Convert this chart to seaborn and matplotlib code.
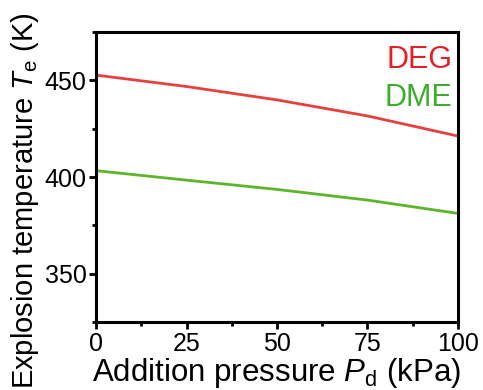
import matplotlib
matplotlib.use("Agg")
import matplotlib.pyplot as plt
import seaborn as sns
import pandas as pd
from matplotlib.ticker import MultipleLocator

pressure = [0, 25, 50, 75, 100]
deg_temp = [452.7, 446.8, 439.9, 431.6, 421.2]
dme_temp = [403.3, 398.4, 393.6, 388.1, 381.2]
series_names = ["DEG", "DME"]
x_ticks = [0, 25, 50, 75, 100]
y_ticks = [350, 400, 450]

sns.set_style("ticks")
plt.rcParams['font.family'] = ['Liberation Sans', 'DejaVu Sans']
plt.rcParams['mathtext.fontset'] = 'custom'
plt.rcParams['mathtext.it'] = 'Liberation Sans:italic'
plt.rcParams['mathtext.rm'] = 'Liberation Sans'
plt.rcParams['text.color'] = 'black'
plt.rcParams['axes.labelcolor'] = 'black'

df = pd.DataFrame({
    "P": pressure * 2,
    "T": deg_temp + dme_temp,
    "fuel": [series_names[0]] * len(pressure) + [series_names[1]] * len(pressure),
})

line_colors = {"DEG": "#E8403F", "DME": "#5DB52A"}
text_colors = {"DEG": "#E81E25", "DME": "#3DAE2B"}

fig = plt.figure(figsize=(4.83, 3.90), dpi=100)
ax = fig.add_axes([0.199, 0.174, 0.749, 0.744])
sns.lineplot(data=df, x="P", y="T", hue="fuel", palette=line_colors,
             linewidth=2.0, legend=False, ax=ax)

ax.set_xlim(0, 100)
ax.set_ylim(325, 475)
ax.set_xticks(x_ticks)
ax.set_yticks(y_ticks)
ax.xaxis.set_minor_locator(MultipleLocator(12.5))
ax.yaxis.set_minor_locator(MultipleLocator(25))
ax.tick_params(axis='both', which='major', direction='out', length=5, width=2,
               labelsize=18, pad=2, colors='black', labelcolor='black')
ax.tick_params(axis='both', which='minor', direction='out', length=3, width=2, colors='black')
for s in ax.spines.values():
    s.set_linewidth(2.2)
    s.set_color('black')

ax.set_xlabel(r"Addition pressure $\mathit{P}_{\mathrm{d}}$ (kPa)", fontsize=22.5, labelpad=0)
ax.set_ylabel(r"Explosion temperature $\mathit{T}_{\mathrm{e}}$ (K)", fontsize=21)
ax.yaxis.set_label_coords(-0.152, 0.42)

ax.text(0.985, 0.955, series_names[0], transform=ax.transAxes, ha='right', va='top',
        fontsize=22, color=text_colors["DEG"])
ax.text(0.985, 0.825, series_names[1], transform=ax.transAxes, ha='right', va='top',
        fontsize=22, color=text_colors["DME"])

fig.savefig("out.png", dpi=100)
